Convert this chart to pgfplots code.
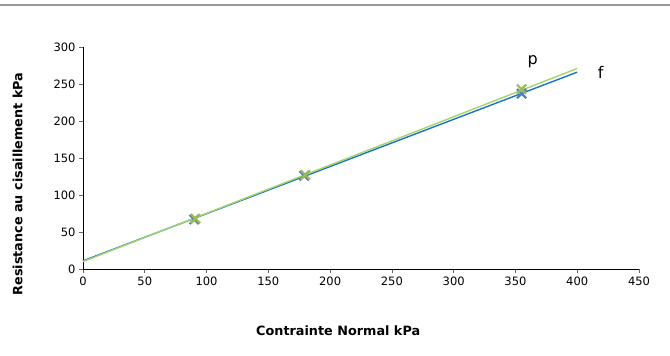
\documentclass[border=0pt]{standalone}
\usepackage{pgfplots}
\pgfplotsset{compat=1.18}
\usepackage{fontspec}
\setmainfont{DejaVu Sans}
\definecolor{ptblue}{HTML}{4F81BD}
\definecolor{ptgreen}{HTML}{9BBB59}
\definecolor{lnblue}{HTML}{1874C6}
\definecolor{lngreen}{HTML}{A6D46A}
\begin{document}
\begin{tikzpicture}
% page: 670 x 356, axis box lower-left corner at the origin
\useasboundingbox (-83pt,-87pt) rectangle (587pt,269pt);
% frame line along the top
\draw[color=black!40, line width=1.6pt] (-83pt,264pt) -- (587pt,264pt);
\begin{axis}[
  anchor=south west,
  scale only axis, width=556pt, height=222pt,
  xmin=0, xmax=450, ymin=0, ymax=300,
  xtick={0,50,...,450}, ytick={0,50,...,300},
  axis x line*=bottom, axis y line*=left,
  axis line style={black, line width=0.8pt, -},
  tick align=outside, major tick length=4pt,
  tick style={black!60, line width=0.7pt},
  ticklabel style={font=\fontsize{11.5}{13}\selectfont},
  /pgf/number format/assume math mode=true,
  xlabel={\textbf{Contrainte Normal kPa}},
  ylabel={\textbf{Resistance au cisaillement kPa}},
  label style={font=\fontsize{12.8}{14}\selectfont},
  xlabel style={at={(axis description cs:0.459,0)}, anchor=north, yshift=-53pt},
  ylabel style={at={(axis description cs:0,0.383)}, anchor=south, yshift=57pt},
  clip=false,
]
% trend lines
\addplot[lnblue, line width=1.4pt] coordinates {(0,11) (400,266)};
\addplot[lngreen, line width=1.4pt] coordinates {(0,10) (400,271)};
% measured points
\addplot[only marks, mark=x, mark size=6.5pt, mark options={ptblue, line width=2.2pt}]
  coordinates {(90,67) (179,126) (355,237)};
\addplot[only marks, mark=x, mark size=6.5pt, mark options={ptgreen, line width=2.2pt}]
  coordinates {(91,68) (180,127) (355,243)};
\node[font=\fontsize{16}{18}\selectfont] at (axis cs:364,280) {p};
\node[font=\fontsize{16}{18}\selectfont] at (axis cs:419,265) {f};
\end{axis}
\end{tikzpicture}
\end{document}
